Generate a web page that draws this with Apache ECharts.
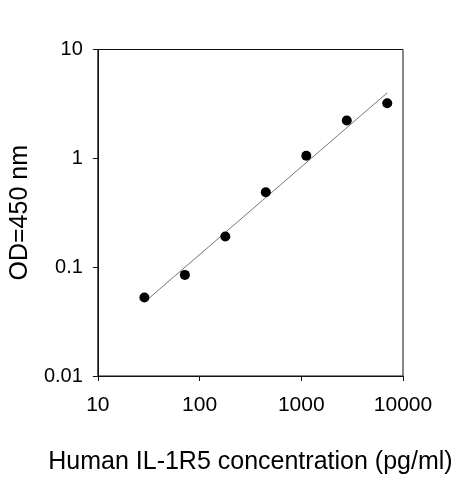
<!DOCTYPE html>
<html>
<head>
<meta charset="utf-8">
<script src="https://cdn.jsdelivr.net/npm/echarts@6/dist/echarts.min.js"></script>
<style>
    html, body { margin: 0; padding: 0; background: #fff; }
    #mainChart { width: 463px; height: 480px; }
</style>
</head>
<body>
<div id="mainChart"></div>
<script>
// standard curve points
var concentration = [28.7, 71.7, 179.2, 448, 1120, 2800, 7000];
var odValue = [0.0526, 0.0849, 0.191, 0.488, 1.057, 2.23, 3.21];
// fitted line ends
var fitX = [32, 7000];
var fitY = [0.052, 4.0];
var xTicks = ['10', '100', '1000', '10000'];
var yTicks = ['0.01', '0.1', '1', '10'];

var pointData = [];
for (var i = 0; i < concentration.length; i++) {
    pointData.push([concentration[i], odValue[i]]);
}
var lineData = [];
for (var j = 0; j < fitX.length; j++) {
    lineData.push([fitX[j], fitY[j]]);
}

var myChart = echarts.init(document.getElementById('mainChart'));
var font = 'Liberation Sans, Arial, sans-serif';
var option = {
    animation: false,
    grid: {
        left: 96,
        top: 49.5,
        right: 60,
        bottom: 103.5,
        show: true,
        borderColor: '#111',
        borderWidth: 1
    },
    xAxis: {
        type: 'log',
        logBase: 10,
        min: 10,
        max: 10000,
        name: 'Human IL-1R5 concentration (pg/ml)',
        nameLocation: 'middle',
        nameGap: 74,
        nameTextStyle: { color: '#000', fontSize: 25, fontFamily: font },
        axisLine: { lineStyle: { color: '#111', width: 1 } },
        axisTick: { show: true, inside: false, length: 5, lineStyle: { color: '#111' } },
        minorTick: { show: false },
        splitLine: { show: false },
        axisLabel: {
            color: '#000',
            fontSize: 21,
            fontFamily: font,
            margin: 19,
            formatter: function (v) {
                return xTicks[Math.round(Math.log10(v)) - 1];
            }
        }
    },
    yAxis: {
        type: 'log',
        logBase: 10,
        min: 0.01,
        max: 10,
        name: 'OD=450 nm',
        nameLocation: 'middle',
        nameGap: 64,
        nameTextStyle: { color: '#000', fontSize: 25, fontFamily: font },
        axisLine: { show: true, lineStyle: { color: '#111', width: 1 } },
        axisTick: { show: true, inside: false, length: 5, lineStyle: { color: '#111' } },
        minorTick: { show: false },
        splitLine: { show: false },
        axisLabel: {
            color: '#000',
            fontSize: 20,
            fontFamily: font,
            margin: 15,
            formatter: function (v) {
                return yTicks[Math.round(Math.log10(v)) + 2];
            }
        }
    },
    series: [
        {
            type: 'line',
            data: lineData,
            symbol: 'none',
            lineStyle: { color: '#777', width: 1 },
            z: 1
        },
        {
            type: 'scatter',
            data: pointData,
            symbol: 'circle',
            symbolSize: 10,
            itemStyle: { color: '#000', opacity: 1 },
            z: 2
        }
    ]
};
myChart.setOption(option);
</script>
</body>
</html>
